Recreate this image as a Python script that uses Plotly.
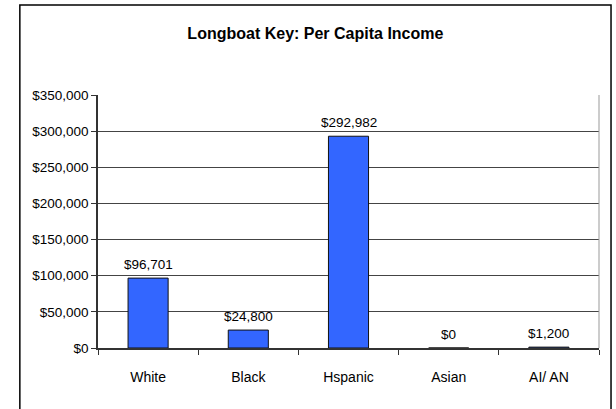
import plotly.graph_objects as go

categories = ["White", "Black", "Hspanic", "Asian", "AI/ AN"]
income = [96701, 24800, 292982, 0, 1200]
bar_labels = ["$96,701", "$24,800", "$292,982", "$0", "$1,200"]

tick_vals = [0, 50000, 100000, 150000, 200000, 250000, 300000, 350000]
tick_text = ["$0", "$50,000", "$100,000", "$150,000", "$200,000",
             "$250,000", "$300,000", "$350,000"]

font_family = "Liberation Sans, Arial, sans-serif"

fig = go.Figure()

fig.add_trace(go.Bar(x=categories, y=income,
                     marker=dict(color="#3366FF",
                                 line=dict(color="#111111", width=1))
                     ))

# value labels above the bars
for cat, val, lab in zip(categories, income, bar_labels):
    fig.add_annotation(x=cat, y=val, text=lab, showarrow=False,
                       yanchor="bottom", yshift=4,
                       font=dict(size=13.5, color="black"))

fig.update_layout(
    width=616, height=409,
    margin=dict(l=98, r=17, t=95, b=61),
    paper_bgcolor="white",
    plot_bgcolor="white",
    bargap=0.6,
    showlegend=False,
    font=dict(family=font_family, size=13.5, color="black"),
    title=dict(text="<b>Longboat Key: Per Capita Income</b>",
               x=0.512, xanchor="center",
               y=0.919, yanchor="middle",
               font=dict(size=16, color="black"))
)

# outer chart border
fig.add_shape(type="rect", xref="paper", yref="paper",
              x0=-0.156, x1=1.024, y0=-0.27, y1=1.356,
              line=dict(color="black", width=1.5))

fig.update_xaxes(showgrid=False,
                 showline=True, linecolor="#333333", linewidth=1.5,
                 ticks="outside", tickson="boundaries", ticklen=5,
                 tickcolor="#333333",
                 ticklabelstandoff=15,
                 tickfont=dict(size=14))

fig.update_yaxes(range=[0, 350000],
                 tickvals=tick_vals, ticktext=tick_text,
                 showgrid=True, gridcolor="#444444", gridwidth=1,
                 showline=True, linecolor="#333333", linewidth=1.5,
                 ticks="outside", ticklen=5, tickcolor="#333333",
                 zeroline=False)

# right edge of the plot area
fig.add_shape(type="line", xref="paper", yref="paper",
              x0=1, x1=1, y0=0, y1=1,
              line=dict(color="#999999", width=1))

fig.write_html("out.html", config={"displayModeBar": False},
               post_script="document.body.style.margin='0';")
